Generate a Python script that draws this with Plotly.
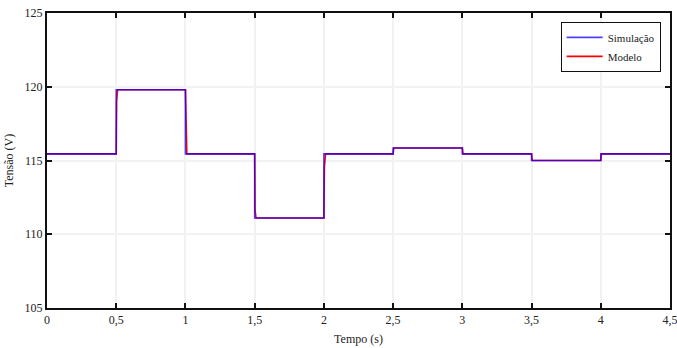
import plotly.graph_objects as go

# Simulação (step changes)
t_sim = [0, 0.5, 1.0, 1.5, 2.0, 2.5, 3.0, 3.5, 4.0, 4.5]
v_sim = [115.45, 119.8, 115.45, 111.1, 115.45, 115.85, 115.45, 115.0, 115.45, 115.45]

# Modelo (fast first-order response)
t_mod = [0, 0.5, 0.503, 0.51, 1.0, 1.004, 1.01, 1.5, 1.503, 1.51,
         2.0, 2.004, 2.012, 2.5, 2.505, 3.0, 3.005, 3.5, 3.505, 4.0, 4.005, 4.5]
v_mod = [115.45, 115.45, 119.0, 119.8, 119.8, 116.0, 115.45, 115.45, 111.6, 111.1,
         111.1, 114.6, 115.45, 115.45, 115.85, 115.85, 115.45, 115.45, 115.0, 115.0, 115.45, 115.45]

x_ticks = [0, 0.5, 1, 1.5, 2, 2.5, 3, 3.5, 4, 4.5]
x_labels = ["0", "0,5", "1", "1,5", "2", "2,5", "3", "3,5", "4", "4,5"]
y_ticks = [105, 110, 115, 120, 125]

fig = go.Figure()
fig.add_trace(go.Scatter(x=t_mod, y=v_mod, mode="lines", name="Modelo",
                         line=dict(color="#ff0000", width=1.6), legendrank=2))
fig.add_trace(go.Scatter(x=t_sim, y=v_sim, mode="lines", name="Simulação",
                         line=dict(color="rgba(20,0,255,0.75)", width=1.6, shape="hv"),
                         legendrank=1))

serif = "Liberation Serif"
font = dict(family=serif, size=12, color="#222")

fig.update_layout(
    width=677, height=348,
    margin=dict(l=47, r=7, t=13, b=40),
    paper_bgcolor="white", plot_bgcolor="white",
    font=font,
    showlegend=True,
    legend=dict(x=0.985, y=0.97, xanchor="right", yanchor="top",
                bordercolor="#111", borderwidth=1, bgcolor="white",
                font=dict(family=serif, size=11, color="#222"),
                tracegroupgap=0, itemwidth=36),
)
fig.update_xaxes(range=[0, 4.5], tickvals=x_ticks, ticktext=x_labels, automargin=False,
                 ticklabeloverflow="allow",
                 ticks="inside", ticklen=5, tickwidth=2, tickcolor="#111",
                 showline=True, linewidth=2, linecolor="#111", mirror="ticks",
                 showgrid=True, gridcolor="#f2f2f2", gridwidth=2, zeroline=False,
                 title=dict(text="Tempo (s)", standoff=8, font=dict(family=serif, size=12)))
fig.update_yaxes(range=[105, 125], tickvals=y_ticks, automargin=False,
                 ticks="inside", ticklen=5, tickwidth=2, tickcolor="#111",
                 showline=True, linewidth=2, linecolor="#111", mirror="ticks",
                 showgrid=True, gridcolor="#f2f2f2", gridwidth=2, zeroline=False,
                 title=dict(text="Tensão (V)", standoff=8, font=dict(family=serif, size=12)))

fig.write_html("out.html")
